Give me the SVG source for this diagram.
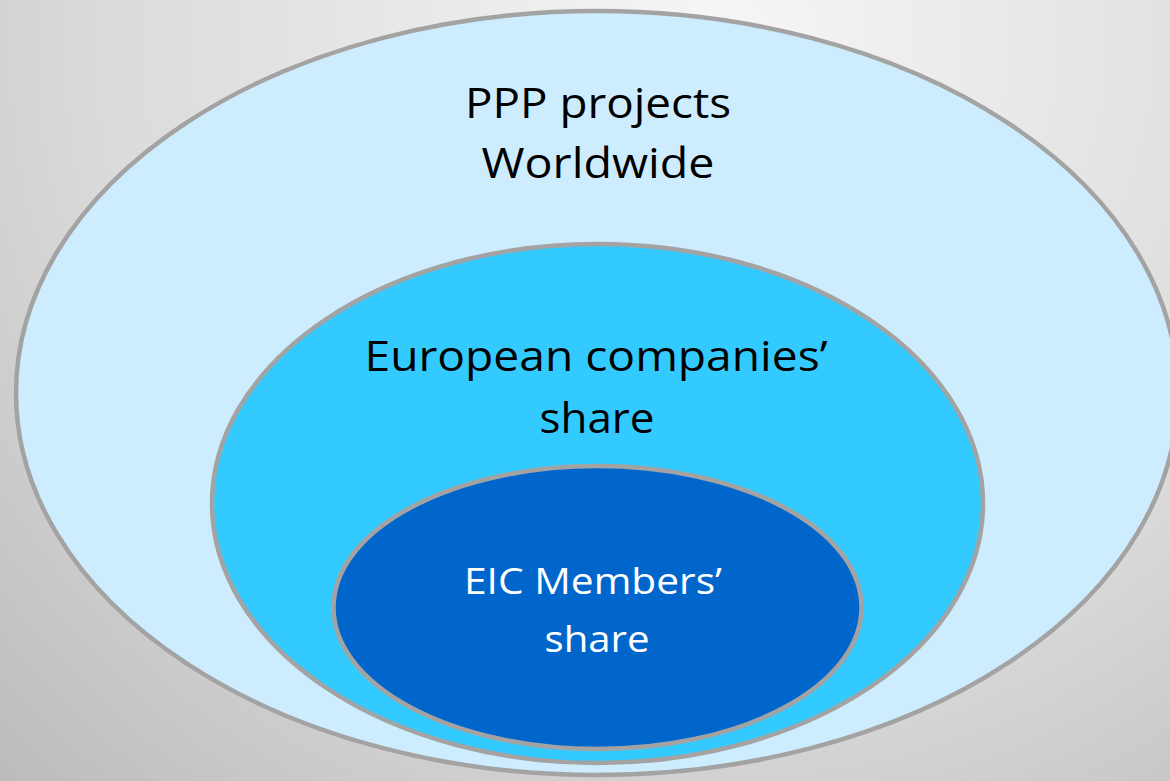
<svg xmlns="http://www.w3.org/2000/svg" width="1170" height="781" viewBox="0 0 1170 781">
  <defs>
    <radialGradient id="bg" gradientUnits="userSpaceOnUse" cx="720" cy="40" r="1150">
      <stop offset="0" stop-color="#f6f6f6"/>
      <stop offset="0.55" stop-color="#dadada"/>
      <stop offset="1" stop-color="#b2b2b2"/>
    </radialGradient>
  </defs>
  <style>
    .ell { stroke: #a3a3a3; stroke-width: 4.5; }
    .lbl { font-family: "Open Sans", "Liberation Sans", sans-serif; text-anchor: middle; }
    .dark { fill: #000000; font-size: 42px; }
    .light { fill: #ffffff; font-size: 37px; }
  </style>
  <rect x="0" y="0" width="1170" height="781" fill="url(#bg)"/>
  <g id="outer">
    <ellipse class="ell" cx="597" cy="393" rx="581" ry="382" fill="#cdedfe"/>
    <text class="lbl dark" x="598" y="118" textLength="266" lengthAdjust="spacingAndGlyphs">PPP projects</text>
    <text class="lbl dark" x="598" y="178" textLength="233" lengthAdjust="spacingAndGlyphs">Worldwide</text>
  </g>
  <g id="middle">
    <ellipse class="ell" cx="597.5" cy="503.5" rx="385.5" ry="259.5" fill="#33cbff"/>
    <text class="lbl dark" x="596" y="371" textLength="463" lengthAdjust="spacingAndGlyphs">European companies’</text>
    <text class="lbl dark" x="597" y="433" textLength="115" lengthAdjust="spacingAndGlyphs">share</text>
  </g>
  <g id="inner">
    <ellipse class="ell" cx="597.5" cy="607.5" rx="264" ry="141.5" fill="#0066cc"/>
    <text class="lbl light" x="593" y="594" textLength="258" lengthAdjust="spacingAndGlyphs">EIC Members’</text>
    <text class="lbl light" x="597" y="652" textLength="105" lengthAdjust="spacingAndGlyphs">share</text>
  </g>
  <g id="connectors"/>
</svg>
